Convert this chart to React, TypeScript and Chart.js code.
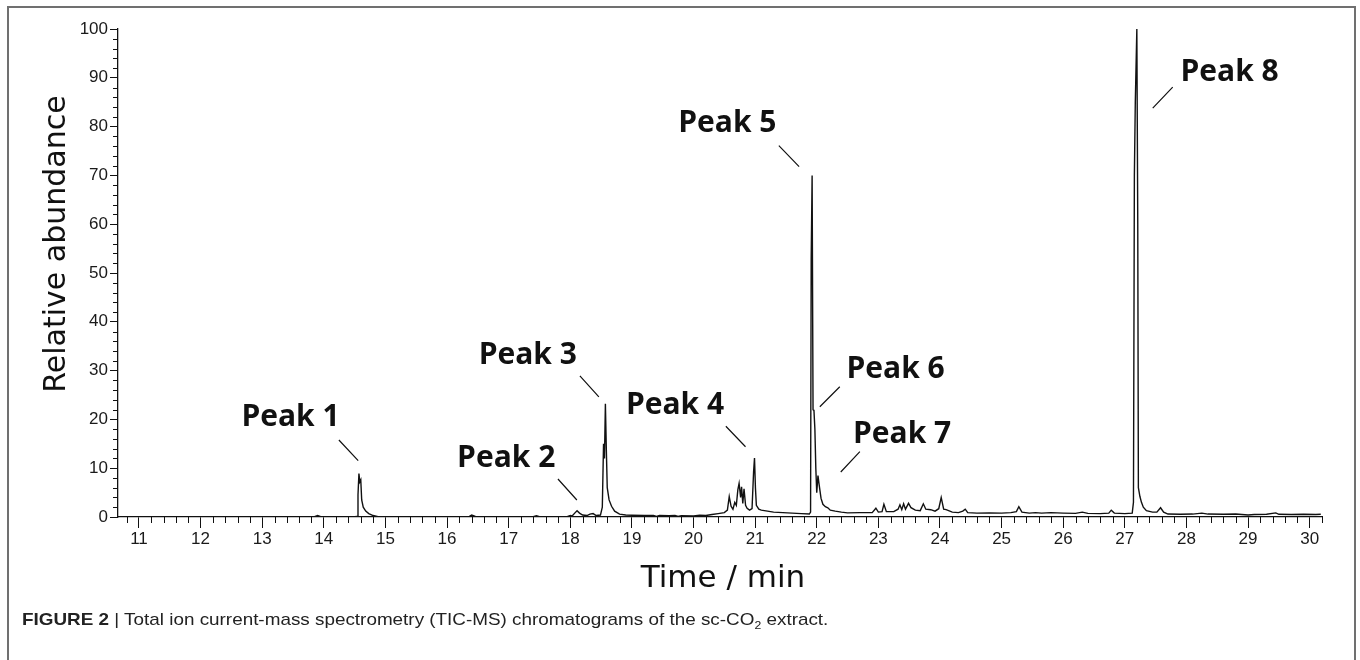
import React, { useEffect, useLayoutEffect, useRef } from "react";
import { Chart, registerables } from "chart.js";

Chart.register(...registerables);

// ---- data ----
const times = [
  10.66, 11.5, 12.5, 13.5, 13.85, 13.9, 13.95, 14.5, 14.54,
  14.555, 14.57, 14.585, 14.6, 14.615, 14.64, 14.68, 14.73, 14.8, 14.88,
  16.35, 16.4, 16.46, 17.4, 17.45, 17.5, 17.95, 18.0, 18.03,
  18.08, 18.11, 18.15, 18.2, 18.27, 18.32, 18.37, 18.42, 18.49,
  18.52, 18.54, 18.555, 18.57, 18.585, 18.6, 18.63, 18.67, 18.72, 18.8, 18.9,
  19.0, 19.2, 19.35, 19.4, 19.45, 19.6, 19.7, 19.75, 19.8, 20.0, 20.1, 20.2, 20.3, 20.4, 20.5, 20.55,
  20.58, 20.61, 20.64, 20.67, 20.695, 20.72, 20.74, 20.765, 20.78, 20.8, 20.82, 20.845, 20.87, 20.91, 20.95,
  20.975, 20.99, 21.005, 21.02, 21.06, 21.1, 21.2, 21.3, 21.45, 21.6, 21.75, 21.88,
  21.9, 21.91, 21.925, 21.94, 21.955, 21.97, 21.985, 22.0, 22.02, 22.035, 22.05, 22.07, 22.1, 22.14, 22.18, 22.22,
  22.3, 22.4, 22.5, 22.7, 22.9, 22.96, 23.0, 23.06, 23.09, 23.13, 23.25, 23.32, 23.35, 23.38, 23.41, 23.44,
  23.49, 23.53, 23.6, 23.68, 23.73, 23.77, 23.85, 23.92, 23.98, 24.02, 24.06, 24.1, 24.2, 24.3, 24.37, 24.41,
  24.45, 24.6, 24.8, 25.0, 25.15, 25.24, 25.28, 25.33, 25.45, 25.55, 25.65, 25.8, 26.0, 26.2, 26.31, 26.4,
  26.6, 26.74, 26.78, 26.83, 27.0, 27.12,
  27.14, 27.155, 27.17, 27.195, 27.21, 27.22, 27.245, 27.27, 27.3, 27.35, 27.45, 27.52, 27.58, 27.63,
  27.7, 27.9, 28.1, 28.25, 28.35, 28.6, 28.8, 29.0, 29.1, 29.3, 29.45, 29.5, 29.7, 29.9, 30.1, 30.18,
];
const abundance = [
  0.05, 0.05, 0.05, 0.05, 0.05, 0.3, 0.05, 0.05, 0.1,
  4.5, 8.9, 7.2, 7.6, 3.5, 2.0, 1.2, 0.7, 0.3, 0.05,
  0.05, 0.4, 0.1, 0.05, 0.25, 0.05, 0.05, 0.3, 0.2,
  0.9, 1.3, 0.8, 0.4, 0.3, 0.6, 0.7, 0.3, 0.4,
  2, 15, 12, 23.2, 14, 6, 3.5, 2.2, 1.2, 0.6, 0.4,
  0.35, 0.3, 0.3, 0.1, 0.3, 0.25, 0.3, 0.1, 0.25, 0.2, 0.35, 0.3, 0.5, 0.7, 0.9, 1.4,
  4.2, 2.2, 1.6, 3.0, 2.4, 5.6, 6.9, 4.0, 6.2, 2.8, 5.8, 2.4, 1.8, 1.4, 1.7,
  9.2, 12.1, 6, 2.4, 1.6, 1.4, 1.2, 1.0, 0.9, 0.8, 0.7, 0.6,
  1.0, 53, 70, 22, 21.8, 18, 10, 5, 8.5, 7, 5.6, 3.8, 2.6, 2.1, 1.9, 1.4,
  1.2, 1.0, 0.85, 0.9, 0.9, 1.8, 1.0, 1.1, 2.6, 1.1, 1.1, 1.6, 2.5, 1.5, 2.7, 1.6,
  2.8, 1.9, 1.4, 1.3, 2.7, 1.6, 1.5, 1.2, 1.7, 4.0, 1.6, 1.5, 1.0, 0.9, 1.2, 1.6,
  0.9, 0.8, 0.85, 0.8, 0.9, 1.1, 2.1, 1.0, 0.8, 0.9, 0.8, 0.9, 0.8, 0.75, 1.0, 0.75,
  0.7, 0.8, 1.4, 0.8, 0.7, 0.8,
  3, 70, 85, 100, 60, 6, 4.2, 3.0, 2.0, 1.3, 1.0, 1.0, 1.9, 1.0,
  0.6, 0.55, 0.6, 0.8, 0.6, 0.55, 0.6, 0.4, 0.5, 0.55, 0.85, 0.55, 0.5, 0.55, 0.5, 0.55,
];

const xTickValues = [11, 12, 13, 14, 15, 16, 17, 18, 19, 20, 21, 22, 23, 24, 25, 26, 27, 28, 29, 30];
const yTickValues = [0, 10, 20, 30, 40, 50, 60, 70, 80, 90, 100];
const X_MIN = 10.66;
const X_MAX = 30.2;
const Y_MIN = 0;
const Y_MAX = 100;
const X_MINOR_STEP = 0.2;
const Y_MINOR_STEP = 2;

// peak annotations (data coordinates): label centre x / baseline y, leader start & end
const peakNames = ["Peak 1", "Peak 2", "Peak 3", "Peak 4", "Peak 5", "Peak 6", "Peak 7", "Peak 8"];
const peakLabelX = [13.46, 16.96, 17.31, 19.7, 20.55, 23.28, 23.385, 28.7];
const peakLabelY = [18.65, 10.25, 31.4, 21.1, 78.8, 28.5, 15.16, 89.3];
const leaderX1 = [14.245, 17.8, 18.156, 20.525, 21.385, 22.374, 22.7, 27.777];
const leaderY1 = [15.78, 7.79, 28.9, 18.6, 76.1, 26.7, 13.38, 88.1];
const leaderX2 = [14.558, 18.107, 18.464, 20.844, 21.714, 22.05, 22.39, 27.453];
const leaderY2 = [11.54, 3.48, 24.6, 14.4, 71.8, 22.6, 9.22, 83.8];

const X_TITLE = "Time / min";
const Y_TITLE = "Relative abundance";

const INK = "#111111";

const decorPlugin = {
  id: "decor",
  afterDraw(chart: any) {
    const { ctx, chartArea, scales } = chart;
    const x = scales.x;
    const y = scales.y;
    ctx.save();
    // minor ticks
    ctx.strokeStyle = INK;
    ctx.lineWidth = 1;
    ctx.beginPath();
    for (let i = Math.ceil(X_MIN / X_MINOR_STEP - 1e-6); i * X_MINOR_STEP <= X_MAX + 1e-6; i++) {
      const v = i * X_MINOR_STEP;
      if (Math.abs(v - Math.round(v)) < 1e-6) continue;
      const px = Math.round(x.getPixelForValue(v)) + 0.5;
      ctx.moveTo(px, chartArea.bottom);
      ctx.lineTo(px, chartArea.bottom + 6);
    }
    for (let i = Math.ceil(Y_MIN / Y_MINOR_STEP); i * Y_MINOR_STEP <= Y_MAX + 1e-6; i++) {
      const v = i * Y_MINOR_STEP;
      if (v % 10 === 0) continue;
      const py = Math.round(y.getPixelForValue(v)) + 0.5;
      ctx.moveTo(chartArea.left - 5, py);
      ctx.lineTo(chartArea.left, py);
    }
    ctx.stroke();

    // leader lines
    ctx.lineWidth = 1.2;
    ctx.beginPath();
    for (let i = 0; i < peakNames.length; i++) {
      ctx.moveTo(x.getPixelForValue(leaderX1[i]), y.getPixelForValue(leaderY1[i]));
      ctx.lineTo(x.getPixelForValue(leaderX2[i]), y.getPixelForValue(leaderY2[i]));
    }
    ctx.stroke();

    // peak labels
    ctx.fillStyle = INK;
    ctx.font = "bold 30px 'Open Sans', sans-serif";
    ctx.textAlign = "center";
    ctx.textBaseline = "alphabetic";
    for (let i = 0; i < peakNames.length; i++) {
      ctx.fillText(peakNames[i], x.getPixelForValue(peakLabelX[i]), y.getPixelForValue(peakLabelY[i]));
    }

    // axis titles
    ctx.font = "31px 'DejaVu Sans', sans-serif";
    ctx.fillText(X_TITLE, (chartArea.left + chartArea.right) / 2 + 3, chartArea.bottom + 70);
    ctx.save();
    ctx.translate(65, (chartArea.top + chartArea.bottom) / 2 - 29);
    ctx.rotate(-Math.PI / 2);
    ctx.font = "30px 'DejaVu Sans', sans-serif";
    ctx.fillText(Y_TITLE, 0, 0);
    ctx.restore();
    ctx.restore();
  },
};

export default function App() {
  const canvasRef = useRef<HTMLCanvasElement | null>(null);
  const capRef = useRef<HTMLSpanElement | null>(null);

  useLayoutEffect(() => {
    const el = capRef.current;
    if (el) {
      const w = el.offsetWidth;
      if (w > 0) el.style.transform = `scaleX(${806 / w})`;
    }
  }, []);

  useEffect(() => {
    if (!canvasRef.current) return;
    const points = times.map((t, i) => ({ x: t, y: abundance[i] }));
    const tickFont = { family: "'Liberation Sans', Arial, sans-serif", size: 17 };
    const chart = new Chart(canvasRef.current, {
      type: "line",
      data: {
        datasets: [
          {
            data: points,
            borderColor: INK,
            borderWidth: 1.4,
            pointRadius: 0,
            tension: 0,
            fill: false,
          },
        ],
      },
      options: {
        animation: false,
        responsive: false,
        devicePixelRatio: 1,
        layout: { padding: { left: 0, right: 38, top: 29, bottom: 0 } },
        plugins: { legend: { display: false }, tooltip: { enabled: false } },
        scales: {
          x: {
            type: "linear",
            min: X_MIN,
            max: X_MAX,
            afterBuildTicks: (s: any) => {
              s.ticks = xTickValues.map((v) => ({ value: v }));
            },
            afterFit: (s: any) => {
              s.height = 143;
            },
            ticks: {
              autoSkip: false,
              maxRotation: 0,
              padding: 1,
              color: "#1a1a1a",
              font: tickFont,
              callback: (v: any) => String(v),
            },
            grid: {
              display: true,
              drawOnChartArea: false,
              drawTicks: true,
              tickLength: 11,
              tickColor: INK,
              tickWidth: 1,
            },
            border: { display: true, color: INK, width: 1.3 },
          },
          y: {
            type: "linear",
            min: Y_MIN,
            max: Y_MAX,
            afterBuildTicks: (s: any) => {
              s.ticks = yTickValues.map((v) => ({ value: v }));
            },
            afterFit: (s: any) => {
              s.width = 118;
            },
            ticks: {
              autoSkip: false,
              padding: 2,
              color: "#1a1a1a",
              font: tickFont,
              callback: (v: any) => String(v),
            },
            grid: {
              display: true,
              drawOnChartArea: false,
              drawTicks: true,
              tickLength: 8,
              tickColor: INK,
              tickWidth: 1,
            },
            border: { display: true, color: INK, width: 1.3 },
          },
        },
      },
      plugins: [decorPlugin],
    });
    return () => chart.destroy();
  }, []);

  return (
    <div style={{ position: "fixed", left: 0, top: 0, width: 1360, height: 660, background: "#fff", overflow: "hidden" }}>
      <div
        style={{
          position: "absolute",
          left: 7,
          top: 6,
          width: 1349,
          height: 700,
          border: "2px solid #707070",
          boxSizing: "border-box",
        }}
      />
      <canvas ref={canvasRef} width={1360} height={660} style={{ position: "absolute", left: 0, top: 0, width: 1360, height: 660 }} />
      <div
        style={{
          position: "absolute",
          left: 22,
          top: 610,
          whiteSpace: "nowrap",
          fontFamily: "'Liberation Sans Narrow', 'Liberation Sans', Arial, sans-serif",
          fontSize: 17,
          color: "#222",
          lineHeight: "20px",
        }}
      >
        <span ref={capRef} style={{ display: "inline-block", transformOrigin: "left center" }}>
          <b>FIGURE 2</b> | Total ion current-mass spectrometry (TIC-MS) chromatograms of the sc-CO
          <sub style={{ fontSize: 11 }}>2</sub> extract.
        </span>
      </div>
    </div>
  );
}
